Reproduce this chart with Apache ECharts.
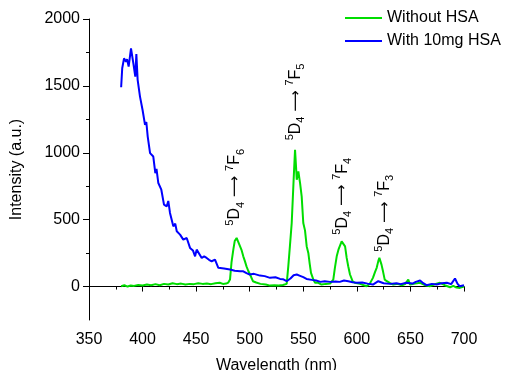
<!DOCTYPE html>
<html>
<head>
<meta charset="utf-8">
<script src="https://cdn.jsdelivr.net/npm/echarts@6/dist/echarts.min.js"></script>
<style>
html, body { margin: 0; padding: 0; background: #fff; }
#chart { width: 509px; height: 370px; }
</style>
</head>
<body>
<div id="chart"></div>
<script>
const withoutWl = [380, 383, 386, 389, 392, 396, 400, 404, 408, 412, 416, 420, 424, 428, 432, 436, 440, 444, 448, 452, 456, 460, 464, 468, 472, 475, 478, 480, 481.6, 483, 484.7, 486, 487.8, 489, 491, 492.5, 494, 495.5, 497, 498.5, 500.3, 503, 506, 510, 515, 519, 523, 527, 531, 534.5, 536, 537.5, 539.2, 541, 542.3, 543.2, 543.9, 545.4, 547, 548.5, 550, 551.6, 553.2, 554.7, 556, 557.2, 559.4, 561, 564, 567, 571, 575, 578, 579.5, 581.2, 583, 585, 585.8, 587.4, 589, 590.5, 592, 593.6, 596, 598, 603, 609, 612, 615, 617, 618.5, 620, 621, 623, 624.5, 626, 628, 631, 634, 638, 642, 645, 648, 649.6, 653, 659, 664, 668, 672, 677.6, 682, 687, 690, 693, 696, 700]
const withoutInt = [2, 10, 0, 8, 5, 12, 8, 15, 10, 18, 10, 20, 15, 25, 18, 22, 15, 20, 18, 25, 20, 22, 18, 25, 28, 20, 22, 30, 52, 180, 276, 340, 363, 340, 300, 270, 226, 190, 151, 120, 90, 40, 30, 20, 15, 7, 10, 8, 12, 20, 151, 300, 475, 800, 1022, 900, 798, 860, 773, 674, 475, 420, 300, 251, 170, 102, 52, 28, 28, 15, 20, 22, 52, 140, 226, 280, 320, 338, 351, 300, 214, 150, 90, 40, 28, 20, 2, 20, 65, 110, 140, 190, 214, 164, 110, 52, 40, 25, 15, 20, 10, 18, 52, 15, 20, 28, 10, 2, 15, 28, 10, -5, 5, -8, -10, 0]

const withWl = [380, 381, 382.7, 384.5, 385.5, 387, 389.2, 391.4, 393.2, 394.2, 395.4, 397.6, 400, 402.3, 403.5, 404.8, 407, 410, 411.9, 413, 414.7, 417.5, 420, 422.5, 424, 425.6, 428.7, 430.5, 431.9, 435, 436.5, 438, 441.2, 444.3, 447, 449, 450.5, 452, 455.2, 457.5, 459.8, 462, 464.5, 467.6, 470.7, 472.3, 476, 481.6, 486, 491, 494, 497, 500, 504, 509.6, 514, 519, 524, 528.3, 531, 534.5, 538, 541, 543.9, 547, 550, 553, 558, 562, 566, 570, 575, 580, 584, 588, 592, 596, 600, 605, 610, 615, 620, 625, 631, 637, 641, 646, 652, 655, 659, 662, 665, 670, 674.5, 679, 684, 688, 691.6, 694, 696, 700]
const withInt = [1490, 1632, 1706, 1681, 1700, 1644, 1781, 1669, 1569, 1738, 1545, 1420, 1320, 1208, 1230, 1121, 997, 972, 848, 880, 774, 724, 612, 599, 640, 550, 450, 470, 413, 388, 400, 351, 363, 289, 270, 226, 276, 281, 214, 225, 214, 200, 189, 201, 140, 140, 135, 127, 118, 114, 114, 100, 90, 95, 82, 78, 65, 70, 57, 55, 40, 60, 85, 90, 80, 70, 57, 50, 45, 35, 40, 35, 38, 35, 45, 40, 32, 28, 30, 22, 15, 40, 25, 20, 25, 18, 28, 22, 35, 45, 25, 10, 20, 15, 25, 28, 18, 60, 20, 2, 10]

const yTicks = [0, 500, 1000, 1500, 2000]
const yMinorTicks = [250, 750, 1250, 1750]

// transition labels: [wavelength, intensity, final state]
const transitions = [[486.3, 742, '6'], [543, 1380, '5'], [586.6, 675, '4'], [626, 548, '3']]

const zip = (xs, ys) => xs.map((x, i) => [x, ys[i]])

const font = 'Liberation Sans, Arial, sans-serif'
const chart = echarts.init(document.getElementById('chart'))

const rich = {
    big: { fontSize: 16, fontFamily: font, color: '#000', lineHeight: 22 },
    sup: { fontSize: 11, fontFamily: font, color: '#000', verticalAlign: 'top', lineHeight: 22 },
    sub: { fontSize: 11, fontFamily: font, color: '#000', verticalAlign: 'bottom', lineHeight: 22 },
    arr: { fontSize: 15, fontFamily: 'DejaVu Sans', color: '#000', lineHeight: 22 }
}

chart.setOption({
    animation: false,
    textStyle: { fontFamily: font },
    grid: { left: 89, right: 45, top: 19, bottom: 50, outerBoundsMode: 'none' },
    legend: {
        orient: 'vertical', left: 345, top: 10, padding: 0, itemWidth: 37, itemHeight: 2, itemGap: 7,
        icon: 'rect',
        textStyle: { fontSize: 16, color: '#000', fontFamily: font },
        data: ['Without HSA', 'With 10mg HSA']
    },
    xAxis: {
        type: 'value', min: 350, max: 700, interval: 50,
        name: 'Wavelength (nm)', nameLocation: 'middle', nameGap: 38,
        nameTextStyle: { fontSize: 16, color: '#000' },
        axisLine: { lineStyle: { color: '#000', width: 1 } },
        axisTick: { length: 5, lineStyle: { color: '#000' } },
        minorTick: { show: true, splitNumber: 2, length: 3, lineStyle: { color: '#000' } },
        axisLabel: { fontSize: 16, color: '#000', margin: 12 },
        splitLine: { show: false }
    },
    yAxis: [{
        type: 'value', min: -250, max: 2000,
        name: 'Intensity (a.u.)', nameLocation: 'middle', nameGap: 64,
        nameTextStyle: { fontSize: 16, color: '#000' },
        axisLine: { show: true, lineStyle: { color: '#000', width: 1 } },
        axisTick: { show: true, length: 6, customValues: yTicks, lineStyle: { color: '#000' } },
        axisLabel: { fontSize: 16, color: '#000', margin: 9, customValues: yTicks, formatter: v => String(v) },
        splitLine: { show: false }
    }, {
        type: 'value', min: -250, max: 2000, position: 'left',
        axisLine: { show: false },
        axisTick: { show: true, length: 3, customValues: yMinorTicks, lineStyle: { color: '#000' } },
        axisLabel: { show: false },
        splitLine: { show: false }
    }],
    series: [{
        name: 'Without HSA', type: 'line', symbol: 'none', color: '#00dd00',
        lineStyle: { width: 2, color: '#00dd00' },
        data: zip(withoutWl, withoutInt),
        markPoint: {
            symbol: 'circle', symbolSize: 0, silent: true,
            label: {
                show: true, rotate: 90, position: 'inside', align: 'center', verticalAlign: 'middle',
                formatter: p => '{sup|5}{big|D}{sub|4}{arr| \u27f6 }{sup|7}{big|F}{sub|' + p.name + '}',
                rich
            },
            data: transitions.map(t => ({ name: t[2], coord: [t[0], t[1]] }))
        }
    }, {
        name: 'With 10mg HSA', type: 'line', symbol: 'none', color: '#0000ff',
        lineStyle: { width: 2, color: '#0000ff' },
        data: zip(withWl, withInt)
    }]
})
</script>
</body>
</html>
